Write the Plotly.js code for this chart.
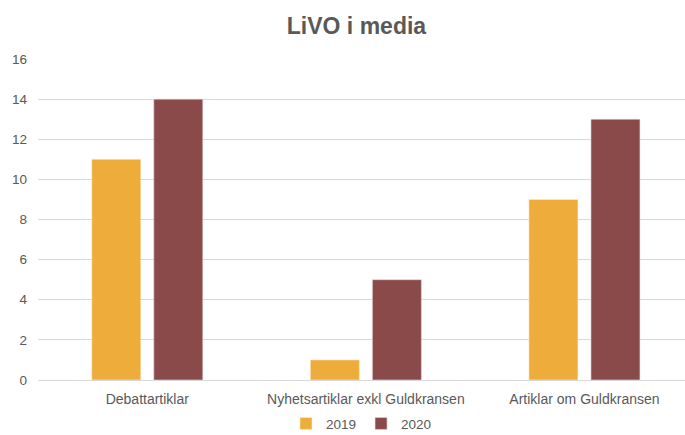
<!DOCTYPE html>
<html>
<head>
<meta charset="utf-8">
<script src="https://cdn.plot.ly/plotly-3.0.1.min.js"></script>
<style>html,body{margin:0;padding:0;background:#fff;}#chart{width:685px;height:435px;}</style>
</head>
<body>
<div id="chart"></div>
<script>
const categories = ["Debattartiklar", "Nyhetsartiklar exkl Guldkransen", "Artiklar om Guldkransen"];
const values2019 = [11, 1, 9];
const values2020 = [14, 5, 13];
const yTicks = [0, 2, 4, 6, 8, 10, 12, 14, 16];

const font = "Liberation Sans, Arial, sans-serif";
const data = [
  {type: "bar", name: "2019", x: categories, y: values2019,
   marker: {color: "#EEAC3B", line: {color: "#FBEBD0", width: 0.6}}},
  {type: "bar", name: "2020", x: categories, y: values2020,
   marker: {color: "#8A4A4A", line: {color: "#E8D6D6", width: 0.6}}}
];
const layout = {
  width: 685, height: 435,
  margin: {l: 38, r: 0, t: 59, b: 55, pad: 0, autoexpand: false},
  paper_bgcolor: "#fff", plot_bgcolor: "#fff",
  font: {family: font, color: "#595959"},
  title: {text: "<b>LiVO i media</b>", x: 0.5204, xref: "container", xanchor: "center",
          y: 0.94, yref: "container", yanchor: "middle",
          font: {family: font, size: 23, color: "#595959"}},
  barmode: "group", bargap: 0.4325, bargroupgap: 0.21,
  xaxis: {type: "category", range: [-0.5, 2.46], showgrid: false, showline: true,
          linecolor: "#D9D9D9", linewidth: 1, ticks: "", ticklabelstandoff: 6,
          tickfont: {family: font, size: 14, color: "#595959"}, fixedrange: true, automargin: false},
  yaxis: {range: [0, 16], tickvals: yTicks, showgrid: true, gridcolor: "#D9D9D9", gridwidth: 1,
          zeroline: false, showline: false, ticks: "", ticklabelstandoff: 10,
          tickfont: {family: font, size: 13.5, color: "#595959"}, fixedrange: true, automargin: false},
  legend: {orientation: "h", x: 0.5, xanchor: "center", yref: "paper", y: -0.136, yanchor: "middle",
           font: {family: font, size: 13.5, color: "#595959"}, itemwidth: 30, traceorder: "normal",
           tracegroupgap: 0, bgcolor: "rgba(0,0,0,0)"},
  showlegend: true
};
Plotly.newPlot("chart", data, layout, {displayModeBar: false, staticPlot: true});
</script>
</body>
</html>
